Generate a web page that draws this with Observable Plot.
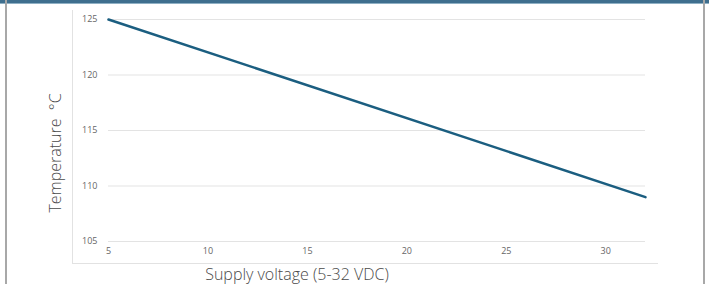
<!DOCTYPE html>
<html>
<head>
<meta charset="utf-8">
<script src="https://cdn.jsdelivr.net/npm/d3@7"></script>
<script src="https://cdn.jsdelivr.net/npm/@observablehq/plot@0.6"></script>
<style>
  html, body { margin: 0; padding: 0; background: #fff; }
  #wrap { position: relative; width: 709px; height: 284px; overflow: hidden; font-family: "Open Sans", "Noto Sans", sans-serif; }
  #topbar { position: absolute; left: 0; top: 0; width: 709px; height: 3px; background: #3f6f8e; border-bottom: 1px solid #8fb0c4; }
  #lborder { position: absolute; left: 5px; top: 0; width: 2px; height: 284px; background: #a8a8a8; }
  #rborder { position: absolute; left: 703px; top: 0; width: 2px; height: 284px; background: #a8a8a8; }
  #box { position: absolute; left: 72px; top: 10px; width: 585px; height: 253px; border-left: 1px solid #e2e2e2; border-bottom: 1px solid #e2e2e2; }
  #chart { position: absolute; left: 0; top: 0; }
  .ylab { position: absolute; left: 55px; top: 153px; transform: translate(-50%, -50%) rotate(-90deg); font-size: 16px; line-height: 16px; font-weight: 300; color: #4a4a4a; white-space: nowrap; }
  .xlab { position: absolute; left: 297px; top: 265px; transform: translateX(-50%); font-size: 16px; line-height: 18px; font-weight: 300; color: #4a4a4a; white-space: nowrap; }
</style>
</head>
<body>
<div id="wrap">
  <div id="topbar"></div>
  <div id="lborder"></div>
  <div id="rborder"></div>
  <div id="box"></div>
  <div id="chart"></div>
  <div class="ylab">Temperature&nbsp;&nbsp;°C</div>
  <div class="xlab">Supply voltage (5-32 VDC)</div>
</div>
<script>
const voltage = [5, 32];
const temperature = [125, 109];
const xTicks = [5, 10, 15, 20, 25, 30];
const yTicks = [105, 110, 115, 120, 125];

const data = voltage.map((v, i) => ({v, t: temperature[i]}));

const chart = Plot.plot({
  width: 709,
  height: 284,
  marginLeft: 108,
  marginRight: 64,
  marginTop: 19,
  marginBottom: 43,
  style: { fontFamily: '"Open Sans", "Noto Sans", sans-serif', background: "transparent", overflow: "visible" },
  x: { domain: [5, 32], ticks: xTicks, label: null },
  y: { domain: [105, 125], ticks: yTicks, label: null },
  marks: [
    Plot.gridY(yTicks, { stroke: "#e3e3e3", strokeOpacity: 1, strokeWidth: 1 }),
    Plot.axisY(yTicks, { tickSize: 0, tickPadding: 11, fontSize: 9, fill: "#666", label: null }),
    Plot.axisX(xTicks, { tickSize: 0, tickPadding: 6, fontSize: 9, fill: "#666", label: null }),
    Plot.line(data, { x: "v", y: "t", stroke: "#1b5e80", strokeWidth: 2.5 })
  ]
});
document.getElementById("chart").appendChild(chart);
</script>
</body>
</html>
